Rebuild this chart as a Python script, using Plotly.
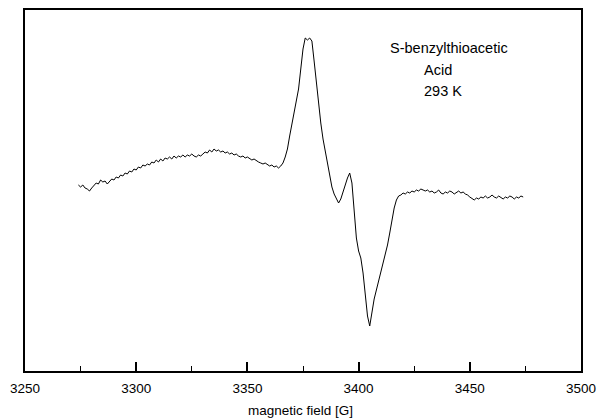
import numpy as np
import plotly.graph_objects as go

# Spectrum sampled every 1 G from 3274 G to 3474 G
FIELD_START = 3274
FIELD_STEP = 1
intensity = [
    186, 184, 186, 183, 182, 180, 183, 185, 188, 187,
    191, 189, 190, 187, 189, 192, 191, 194, 193, 196,
    195, 198, 197, 200, 199, 202, 201, 204, 203, 206,
    205, 207, 206, 209, 208, 211, 209, 212, 210, 213,
    212, 214, 212, 215, 213, 215, 214, 216, 214, 216,
    215, 217, 215, 214, 216, 215, 217, 219, 218, 221,
    219, 222, 220, 221, 219, 220, 218, 219, 217, 218,
    216, 217, 215, 214, 215, 213, 214, 212, 211, 212,
    210, 209, 208, 207, 208, 206, 205, 206, 204, 205,
    203, 205, 208, 214, 222, 235, 247, 258, 268, 282,
    302, 322, 333, 331, 333, 330, 310, 288, 266, 248,
    232, 220, 209, 196, 184, 177, 172, 168, 172, 178,
    186, 193, 198, 188, 158, 133, 120, 113, 98, 76,
    55, 45, 60, 72, 81, 90, 99, 107, 116, 126,
    138, 151, 163, 171, 175, 176, 178, 177, 179, 178,
    180, 179, 181, 180, 182, 181, 180, 181, 179, 180,
    178, 179, 181, 178, 177, 179, 178, 180, 179, 177,
    179, 180, 178, 179, 177, 176, 174, 172, 171, 173,
    172, 174, 173, 175, 173, 174, 176, 174, 173, 175,
    173, 172, 174, 173, 175, 174, 172, 174, 173, 175,
    174,
]
field = FIELD_START + FIELD_STEP * np.arange(len(intensity))

x_ticks = [3250, 3300, 3350, 3400, 3450, 3500]
label_lines = ["S-benzylthioacetic", "Acid", "293 K"]

FONT = "Liberation Sans, Arial, sans-serif"

fig = go.Figure()
fig.add_trace(go.Scatter(
    x=field, y=intensity, mode="lines",
    line=dict(color="black", width=1),
    showlegend=False, hoverinfo="skip",
))

fig.update_layout(
    width=598, height=419,
    margin=dict(l=25, r=17, t=10, b=48),
    paper_bgcolor="white", plot_bgcolor="white",
    font=dict(family=FONT, size=14, color="black"),
)
fig.update_xaxes(
    range=[3250, 3500],
    tickvals=x_ticks, ticktext=[str(v) for v in x_ticks],
    ticks="inside", ticklen=9, tickwidth=1.5, tickcolor="black",
    minor=dict(dtick=25, tick0=3250, ticks="inside", ticklen=5, tickwidth=1, tickcolor="black", showgrid=False),
    showgrid=False, zeroline=False,
    showline=True, linecolor="black", linewidth=1.5, mirror=True,
    tickfont=dict(family=FONT, size=13.5),
    ticklabelstandoff=4,
    automargin=False,
)
fig.update_yaxes(
    range=[0, 361], showticklabels=False, ticks="",
    showgrid=False, zeroline=False,
    showline=True, linecolor="black", linewidth=1.5, mirror=True,
    automargin=False,
)

# axis title placed below the tick labels
fig.add_annotation(
    text="magnetic field [G]", xref="paper", yref="paper",
    x=(300 - 25) / 556, y=-(410 - 371) / 361,
    xanchor="center", yanchor="middle", showarrow=False,
    font=dict(family=FONT, size=13.5, color="black"),
)

ann_pos = [(388, 48), (422, 70), (422, 91)]
for txt, (px, py) in zip(label_lines, ann_pos):
    fig.add_annotation(
        text=txt, xref="paper", yref="paper",
        x=(px - 25) / 556, y=(371 - py) / 361,
        xanchor="left", yanchor="middle", showarrow=False,
        font=dict(family=FONT, size=14.5, color="black"),
    )

fig.write_html("out.html")
